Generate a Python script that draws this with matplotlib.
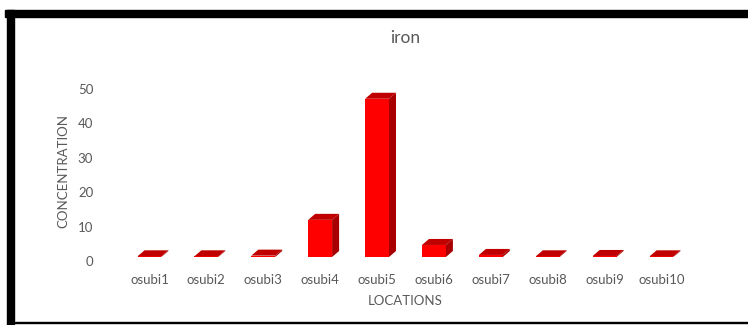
import numpy as np
import matplotlib.pyplot as plt
from matplotlib.patches import Polygon, Rectangle
from matplotlib.transforms import ScaledTranslation

locations = ["osubi1", "osubi2", "osubi3", "osubi4", "osubi5",
             "osubi6", "osubi7", "osubi8", "osubi9", "osubi10"]
iron = [0.2, 0.2, 0.4, 10.8, 46.0, 3.5, 0.6, 0.2, 0.3, 0.2]

plt.rcParams["font.family"] = ["Lato", "DejaVu Sans"]
grey = "#595959"

W, H = 748, 325
fig = plt.figure(figsize=(W / 100, H / 100), dpi=100)
# axes placed in pixel terms
x0, x1 = 121, 690
y0, y1 = 257, 85
ax = fig.add_axes([x0 / W, (H - y0) / H, (x1 - x0) / W, (y0 - y1) / H])
ax.set_xlim(0.5, 10.5)
ax.set_ylim(0, 50)

# fake 3D depth (px -> data units)
px_x = 10 / (x1 - x0)
px_y = 50 / (y0 - y1)
dx, dy = 7 * px_x, 6 * px_y
bw = 0.42

pos = np.arange(1, len(locations) + 1)
ax.bar(pos, iron, width=bw, color="#FF0000", edgecolor="none", zorder=2)
for p, v in zip(pos, iron):
    l, r = p - bw / 2, p + bw / 2
    top = Polygon([(l, v), (r, v), (r + dx, v + dy), (l + dx, v + dy)],
                  closed=True, facecolor="#C00000", edgecolor="none", zorder=3)
    side = Polygon([(r, 0), (r + dx, dy), (r + dx, v + dy), (r, v)],
                   closed=True, facecolor="#A80000", edgecolor="none", zorder=3)
    ax.add_patch(top)
    ax.add_patch(side)

ax.set_xticks(pos)
ax.set_xticklabels(locations, fontsize=9.5, color=grey)
ax.set_yticks([0, 10, 20, 30, 40, 50])
ax.tick_params(axis="both", length=0, labelsize=9.5, labelcolor=grey)
ax.tick_params(axis="x", pad=12)
ax.tick_params(axis="y", pad=20)
# value labels sit a little below the floor line
shift = ScaledTranslation(0, -4 / 100, fig.dpi_scale_trans)
for t in ax.get_yticklabels():
    t.set_transform(t.get_transform() + shift)
for s in ax.spines.values():
    s.set_visible(False)

ax.set_xlabel("LOCATIONS", fontsize=9.5, color=grey, labelpad=7)
ax.set_ylabel("CONCENTRATION", fontsize=9.5, color=grey, labelpad=6)
fig.text(405 / W, 1 - 38 / H, "iron", ha="center", va="center",
         fontsize=12.5, color=grey)

# black frame pieces
fig.add_artist(Rectangle((5 / W, 1 - 17 / H), (W - 5) / W, 7 / H,
                         transform=fig.transFigure, color="black"))
fig.add_artist(Rectangle((7 / W, 0), 7 / W, 1 - 10 / H,
                         transform=fig.transFigure, color="black"))
fig.add_artist(Rectangle((15 / W, 2 / H), (W - 15) / W, 1.5 / H,
                         transform=fig.transFigure, color="black"))

fig.savefig("out.png", dpi=100)
